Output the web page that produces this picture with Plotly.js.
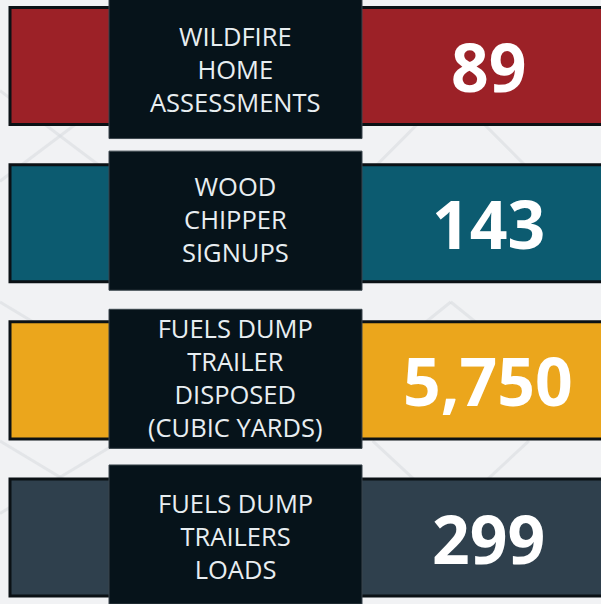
<!DOCTYPE html>
<html>
<head>
<meta charset="utf-8">
<script src="https://cdn.plot.ly/plotly-3.0.1.min.js"></script>
<style>
html,body{margin:0;padding:0;background:#f1f2f4;}
#chart{width:601px;height:604px;}
</style>
</head>
<body>
<div id="chart"></div>
<script>
// ---- data ----
const categories = ['Wildfire Home Assessments', 'Wood Chipper Signups', 'Fuels Dump Trailer Disposed (Cubic Yards)', 'Fuels Dump Trailers Loads'];
const labelLines = [
  ['WILDFIRE', 'HOME', 'ASSESSMENTS'],
  ['WOOD', 'CHIPPER', 'SIGNUPS'],
  ['FUELS DUMP', 'TRAILER', 'DISPOSED', '(CUBIC YARDS)'],
  ['FUELS DUMP', 'TRAILERS', 'LOADS']
];
const values = [89, 143, 5750, 299];
const colors = ['#9c2127', '#0c5b70', '#eba61c', '#2f404d'];

// ---- layout helpers (pixel nudges per row, styling only) ----
const rows = categories.map((_, i) => i);
const pxPerUnit = 157.17;
const boxShiftPx = [3, -2.5, -1.5, -3];
const labelShiftPx = [3, -4, -3, -2];
const boxWidth = 0.885;

const bandTrace = {
  type: 'bar', orientation: 'h',
  y: rows, x: rows.map(() => 600), base: 10,
  width: 0.745,
  marker: { color: colors, line: { color: '#0b1115', width: 3 } },
  hoverinfo: 'skip', showlegend: false
};
const boxTrace = {
  type: 'bar', orientation: 'h',
  y: rows, x: rows.map(() => 253), base: 109,
  width: boxWidth,
  offset: boxShiftPx.map(d => -boxWidth / 2 + d / pxPerUnit),
  marker: { color: '#06131a', line: { color: '#3a454c', width: 1 } },
  hoverinfo: 'skip', showlegend: false
};

const annotations = [];
values.forEach((v, i) => {
  annotations.push({
    x: 488, y: i, xref: 'x', yref: 'y', showarrow: false,
    text: v.toLocaleString('en-US'),
    font: { family: 'Open Sans', size: 66, color: '#ffffff', weight: 700 },
    xanchor: 'center', yanchor: 'middle'
  });
  annotations.push({
    x: 235.5, y: i + labelShiftPx[i] / pxPerUnit, xref: 'x', yref: 'y', showarrow: false,
    text: labelLines[i].join('<br>'),
    font: { family: 'Open Sans', size: 25.5, color: '#e8eef1' },
    xanchor: 'center', yanchor: 'middle', align: 'center'
  });
});

const bgLine = (x0, y0, x1, y1) => ({ type: 'line', xref: 'paper', yref: 'paper', x0, y0, x1, y1,
  line: { color: 'rgba(215,218,223,0.55)', width: 3 }, layer: 'below' });

const layout = {
  width: 601, height: 604,
  margin: { l: 0, r: 0, t: 0, b: 0, pad: 0 },
  paper_bgcolor: '#f1f2f4', plot_bgcolor: '#f1f2f4',
  barmode: 'overlay',
  xaxis: { range: [0, 601], visible: false, fixedrange: true },
  yaxis: { range: [3.423, -0.42], visible: false, fixedrange: true },
  annotations: annotations,
  shapes: [
    bgLine(0.0, 0.85, 0.2, 0.70), bgLine(0.0, 0.70, 0.2, 0.85),
    bgLine(0.6, 0.70, 0.75, 0.85), bgLine(0.75, 0.85, 0.9, 0.70),
    bgLine(0.0, 0.50, 0.2, 0.38), bgLine(0.6, 0.38, 0.75, 0.50), bgLine(0.75, 0.50, 0.9, 0.38),
    bgLine(0.0, 0.27, 0.2, 0.15), bgLine(0.0, 0.15, 0.2, 0.27),
    bgLine(0.62, 0.27, 0.75, 0.15), bgLine(0.75, 0.15, 0.88, 0.27)
  ]
};

Plotly.newPlot('chart', [bandTrace, boxTrace], layout, { displayModeBar: false, staticPlot: true });
</script>
</body>
</html>
